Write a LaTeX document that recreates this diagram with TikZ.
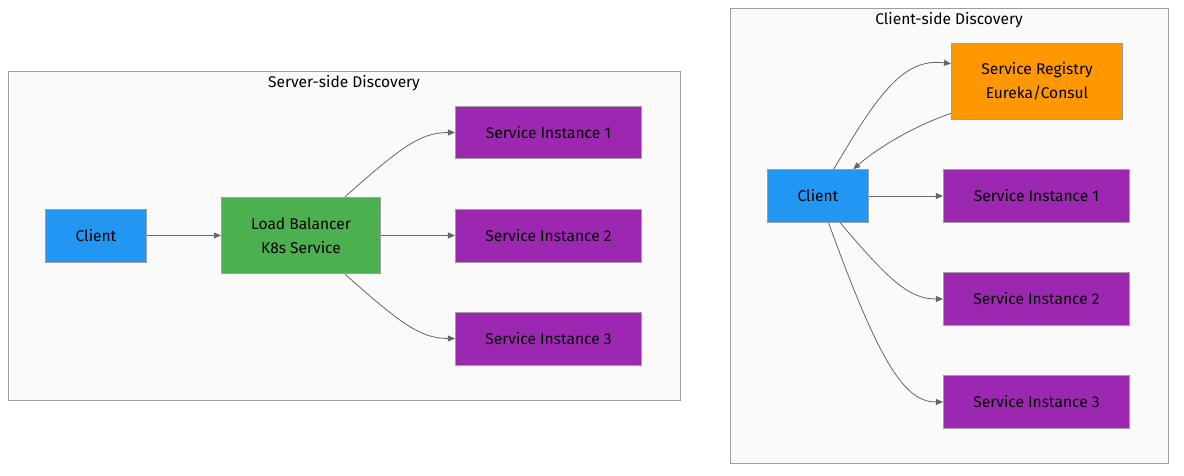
\documentclass[tikz,border=0pt]{standalone}
\usepackage{fontspec}
\setmainfont{Fira Sans}
\usetikzlibrary{arrows.meta}
\definecolor{clientblue}{HTML}{2196F3}
\definecolor{lbgreen}{HTML}{4CAF50}
\definecolor{instpurple}{HTML}{9C27B0}
\definecolor{regorange}{HTML}{FF9800}
\definecolor{clusterfill}{HTML}{FAFAFA}
\definecolor{edgegray}{HTML}{9E9E9E}
\definecolor{linegray}{HTML}{666666}
\tikzstyle{cluster} = [rectangle, draw=edgegray, fill=clusterfill, line width=0.8pt]
\tikzstyle{box} = [rectangle, draw=edgegray, line width=0.8pt, inner sep=0pt, text centered, align=center, font=\fontsize{15.6}{24}\selectfont]
\tikzstyle{client} = [box, fill=clientblue, minimum width=102, minimum height=53]
\tikzstyle{balancer} = [box, fill=lbgreen, minimum width=160, minimum height=77]
\tikzstyle{registry} = [box, fill=regorange, minimum width=172, minimum height=77]
\tikzstyle{instance} = [box, fill=instpurple, minimum width=187, minimum height=53]
\tikzstyle{arrow} = [line width=0.8pt, draw=linegray, -{Triangle[length=7pt,width=6pt]}]
\tikzstyle{title} = [font=\fontsize{15.6}{18}\selectfont]

\begin{document}
\begin{tikzpicture}[x=1bp, y=-1bp]
        \useasboundingbox (0,0) rectangle (1184,476);
        % server-side discovery
        \draw [cluster] (8,71) rectangle (680,400);
        \node (stitle) [title] at (344,83) {Server-side Discovery};
        \node (sclient) [client] at (96,235.5) {Client};
        \node (lb) [balancer] at (301,235.5) {Load Balancer\\K8s Service};
        \node (sinst1) [instance] at (548.5,132.5) {Service Instance 1};
        \node (sinst2) [instance] at (548.5,235.5) {Service Instance 2};
        \node (sinst3) [instance] at (548.5,338.5) {Service Instance 3};
        \draw [arrow] (sclient) -- (lb);
        \draw [arrow] (lb.north east) ++(-36,0) coordinate (lbtop) .. controls (400,148) and (420,132.5) .. (sinst1.west);
        \draw [arrow] (lb) -- (sinst2);
        \draw [arrow] (lb.south east) ++(-36,0) coordinate (lbbot) .. controls (400,323) and (420,338.5) .. (sinst3.west);
        % client-side discovery
        \draw [cluster] (730,8) rectangle (1168,463);
        \node (ctitle) [title] at (949,20) {Client-side Discovery};
        \node (reg) [registry] at (1037,81.5) {Service Registry\\Eureka/Consul};
        \node (cclient) [client] at (818,196) {Client};
        \node (cinst1) [instance] at (1036.5,196) {Service Instance 1};
        \node (cinst2) [instance] at (1036.5,299) {Service Instance 2};
        \node (cinst3) [instance] at (1036.5,402) {Service Instance 3};
        \draw [arrow] (cclient.north west) ++(67,0) coordinate (cup) .. controls (880,90) and (905,58) .. ([yshift=-21]reg.north west);
        \draw [arrow] ([yshift=7]reg.south west) .. controls (915,126) and (880,146) .. ([xshift=-16]cclient.north east);
        \draw [arrow] (cclient) -- (cinst1);
        \draw [arrow] ([xshift=-29]cclient.south east) .. controls (890,282) and (910,299) .. (cinst2.west);
        \draw [arrow] ([xshift=62]cclient.south west) .. controls (880,365) and (905,402) .. (cinst3.west);
    \end{tikzpicture}
\end{document}
